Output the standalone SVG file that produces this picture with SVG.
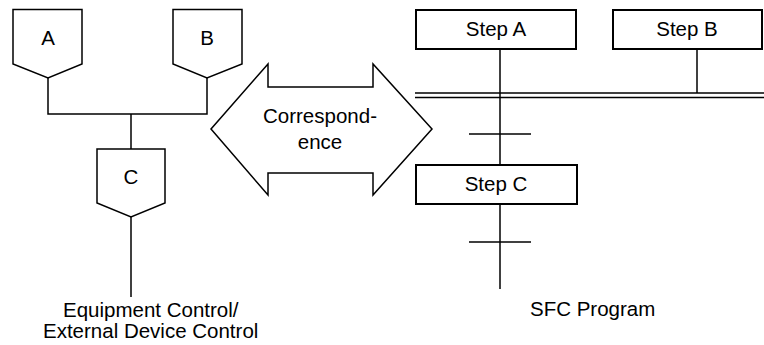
<svg xmlns="http://www.w3.org/2000/svg" width="764" height="345" viewBox="0 0 764 345">
<style>
.s{fill:#fff;stroke:#000;stroke-width:1.5}
.b{fill:#fff;stroke:#000;stroke-width:2}
.l{fill:none;stroke:#000;stroke-width:1.5}
text{font-family:"Liberation Sans",Arial,sans-serif;font-size:20.5px;fill:#000;text-anchor:middle}
text.st{text-anchor:start}
</style>
<rect width="764" height="345" fill="#fff"/>
<g id="connectors">
<polyline class="l" points="48,78 48,114 207,114 207,78"/>
<line class="l" x1="131" y1="114" x2="131" y2="149"/>
<line class="l" x1="131" y1="217" x2="131" y2="297"/>
<line class="l" x1="500" y1="49" x2="500" y2="165"/>
<line class="l" x1="697" y1="49" x2="697" y2="93"/>
<line class="l" x1="415" y1="93" x2="764" y2="93"/>
<line class="l" x1="415" y1="97.5" x2="764" y2="97.5"/>
<line class="l" x1="469" y1="134" x2="531" y2="134"/>
<line class="l" x1="500" y1="204" x2="500" y2="289"/>
<line class="l" x1="469" y1="242" x2="531" y2="242"/>
</g>
<g id="nodeA">
<polygon class="s" points="13,9.5 82,9.5 82,64 48,78 13,64"/>
<text x="48" y="45">A</text>
</g>
<g id="nodeB">
<polygon class="s" points="173,9.5 242,9.5 242,64 207,78 173,64"/>
<text x="207" y="45">B</text>
</g>
<g id="nodeC">
<polygon class="s" points="97,149 165,149 165,203 131,217 97,203"/>
<text x="131" y="184">C</text>
</g>
<g id="correspondence">
<polygon class="s" points="211,129 268,64 268,87 373,87 373,64 432,129 373,195 373,173 268,173 268,195"/>
<text x="320" y="123">Correspond-</text>
<text x="320" y="149">ence</text>
</g>
<g id="stepA">
<rect class="b" x="416" y="10" width="160" height="39"/>
<text x="496" y="36">Step A</text>
</g>
<g id="stepB">
<rect class="b" x="613" y="10" width="149" height="39"/>
<text x="687" y="36">Step B</text>
</g>
<g id="stepC">
<rect class="b" x="416" y="165" width="161" height="39"/>
<text x="496" y="191">Step C</text>
</g>
<g id="labels">
<text class="st" x="63" y="317">Equipment Control/</text>
<text class="st" x="43" y="338">External Device Control</text>
<text class="st" x="530" y="316">SFC Program</text>
</g>
</svg>
